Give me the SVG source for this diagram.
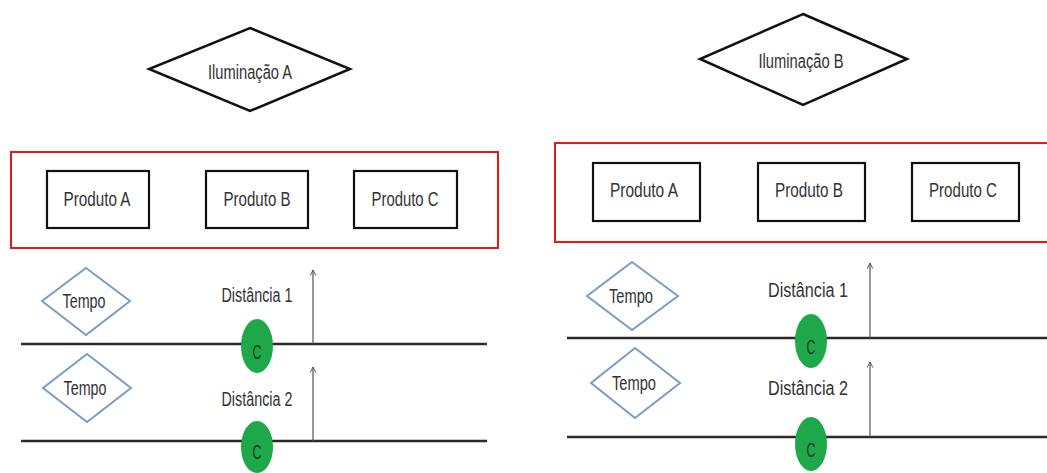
<svg xmlns="http://www.w3.org/2000/svg" width="1047" height="473" viewBox="0 0 1047 473">
  <style>
    .lbl { font-family: "Liberation Sans", Arial, sans-serif; font-size: 20px; fill: #333; text-anchor: middle; }
    .big { stroke: #111; stroke-width: 2.5; fill: #fff; }
    .prod { stroke: #111; stroke-width: 2.2; fill: #fff; }
    .group { stroke: #e01a1a; stroke-width: 2; fill: none; }
    .tempo { stroke: #7b9bc9; stroke-width: 2; fill: #fff; }
    .track { stroke: #2a2a2a; stroke-width: 2.6; }
    .dist { stroke: #555; stroke-width: 1.2; marker-end: url(#tip); }
    .car { fill: #1ea84a; }
    .carl { font-family: "Liberation Sans", Arial, sans-serif; font-size: 21px; fill: #173d22; text-anchor: middle; }
  </style>
  <defs>
    <marker id="tip" viewBox="0 0 10 10" refX="9" refY="5" markerWidth="7" markerHeight="7" orient="auto" markerUnits="userSpaceOnUse">
      <path d="M1,1 L9,5 L1,9" fill="none" stroke="#555" stroke-width="1.4"/>
    </marker>
  </defs>
  <rect width="1047" height="473" fill="#fff"/>

  <!-- Left setup: lighting A -->
  <g id="iluminacao-a">
    <polygon class="big" points="250,28 350,69 250,111 149,69"/>
    <text class="lbl" x="250" y="79" textLength="84" lengthAdjust="spacingAndGlyphs">Iluminação A</text>
  </g>
  <g id="produtos-a">
    <rect class="group" x="11" y="152" width="487" height="96"/>
    <g id="a-produto-a">
      <rect class="prod" x="47" y="171" width="102" height="57"/>
      <text class="lbl" x="97" y="206" textLength="67" lengthAdjust="spacingAndGlyphs">Produto A</text>
    </g>
    <g id="a-produto-b">
      <rect class="prod" x="206" y="171" width="102" height="57"/>
      <text class="lbl" x="257" y="206" textLength="67" lengthAdjust="spacingAndGlyphs">Produto B</text>
    </g>
    <g id="a-produto-c">
      <rect class="prod" x="354" y="171" width="103" height="57"/>
      <text class="lbl" x="405" y="206" textLength="67" lengthAdjust="spacingAndGlyphs">Produto C</text>
    </g>
  </g>
  <g id="a-tempo-1">
    <polygon class="tempo" points="86,268 130,301 86,335 42,301"/>
    <text class="lbl" x="84" y="308" textLength="43" lengthAdjust="spacingAndGlyphs">Tempo</text>
  </g>
  <g id="a-tempo-2">
    <polygon class="tempo" points="87,354 131,388 87,422 43,388"/>
    <text class="lbl" x="85" y="395" textLength="43" lengthAdjust="spacingAndGlyphs">Tempo</text>
  </g>
  <g id="a-pistas">
    <line class="track" x1="21" y1="344" x2="487" y2="344"/>
    <line class="track" x1="21" y1="441" x2="487" y2="441"/>
  </g>
  <g id="a-distancias">
    <line class="dist" x1="313" y1="344" x2="313" y2="270"/>
    <line class="dist" x1="313" y1="441" x2="313" y2="367"/>
    <text class="lbl" x="257" y="302" textLength="71" lengthAdjust="spacingAndGlyphs">Distância 1</text>
    <text class="lbl" x="257" y="406" textLength="71" lengthAdjust="spacingAndGlyphs">Distância 2</text>
  </g>
  <g id="a-carro-1">
    <ellipse class="car" cx="257" cy="346" rx="16" ry="27"/>
    <text class="carl" x="257" y="359" textLength="9" lengthAdjust="spacingAndGlyphs">C</text>
  </g>
  <g id="a-carro-2">
    <ellipse class="car" cx="257" cy="447" rx="16" ry="26"/>
    <text class="carl" x="257" y="459" textLength="9" lengthAdjust="spacingAndGlyphs">C</text>
  </g>

  <!-- Right setup: lighting B -->
  <g id="iluminacao-b">
    <polygon class="big" points="803,14 907,59 803,105 700,59"/>
    <text class="lbl" x="801" y="68" textLength="85" lengthAdjust="spacingAndGlyphs">Iluminação B</text>
  </g>
  <g id="produtos-b">
    <path class="group" d="M1050,143 H555 V242 H1050"/>
    <g id="b-produto-a">
      <rect class="prod" x="593" y="163" width="107" height="58"/>
      <text class="lbl" x="644" y="197" textLength="68" lengthAdjust="spacingAndGlyphs">Produto A</text>
    </g>
    <g id="b-produto-b">
      <rect class="prod" x="758" y="163" width="107" height="58"/>
      <text class="lbl" x="809" y="197" textLength="68" lengthAdjust="spacingAndGlyphs">Produto B</text>
    </g>
    <g id="b-produto-c">
      <rect class="prod" x="912" y="163" width="107" height="58"/>
      <text class="lbl" x="963" y="197" textLength="68" lengthAdjust="spacingAndGlyphs">Produto C</text>
    </g>
  </g>
  <g id="b-tempo-1">
    <polygon class="tempo" points="632,262 678,296 632,330 587,296"/>
    <text class="lbl" x="631" y="303" textLength="44" lengthAdjust="spacingAndGlyphs">Tempo</text>
  </g>
  <g id="b-tempo-2">
    <polygon class="tempo" points="635,348 680,383 635,418 591,383"/>
    <text class="lbl" x="634" y="390" textLength="44" lengthAdjust="spacingAndGlyphs">Tempo</text>
  </g>
  <g id="b-pistas">
    <line class="track" x1="567" y1="338" x2="1047" y2="338"/>
    <line class="track" x1="567" y1="437" x2="1047" y2="437"/>
  </g>
  <g id="b-distancias">
    <line class="dist" x1="870" y1="338" x2="870" y2="263"/>
    <line class="dist" x1="870" y1="437" x2="870" y2="362"/>
    <text class="lbl" x="808" y="297" textLength="80" lengthAdjust="spacingAndGlyphs">Distância 1</text>
    <text class="lbl" x="808" y="395" textLength="80" lengthAdjust="spacingAndGlyphs">Distância 2</text>
  </g>
  <g id="b-carro-1">
    <ellipse class="car" cx="811" cy="341" rx="16" ry="27"/>
    <text class="carl" x="811" y="354" textLength="9" lengthAdjust="spacingAndGlyphs">C</text>
  </g>
  <g id="b-carro-2">
    <ellipse class="car" cx="811" cy="444" rx="16" ry="27"/>
    <text class="carl" x="811" y="457" textLength="9" lengthAdjust="spacingAndGlyphs">C</text>
  </g>
</svg>
